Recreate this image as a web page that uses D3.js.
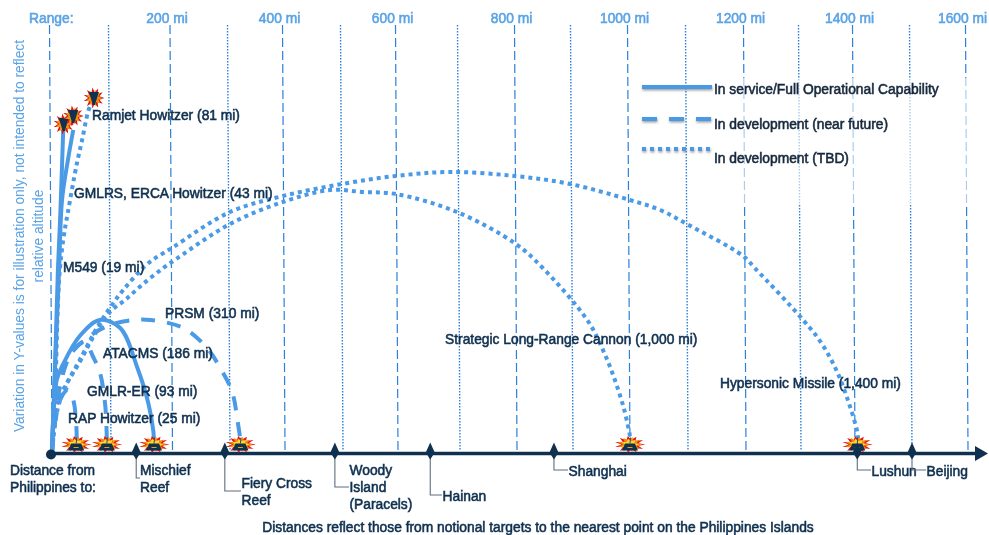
<!DOCTYPE html>
<html>
<head>
<meta charset="utf-8">
<script src="https://cdn.jsdelivr.net/npm/d3@7"></script>
<style>
  html, body { margin: 0; padding: 0; background: #fff; overflow: hidden; }
  text { font-family: "Liberation Sans", Arial, sans-serif; filter: url(#soft); }
</style>
</head>
<body>
<script>
// grid, in miles
var gridMiles = d3.range(0, 1700, 100);
var rangeTicks = [200, 400, 600, 800, 1000, 1200, 1400, 1600];

// trajectories as [miles, relative altitude]
var m549 = [[0,0],[5,20.5],[10,45.5],[14,59],[19,80.5]];
var gmlrs = [[0,0],[5,20.5],[12,45.5],[17,63],[27,73],[36,80.5]];
var ramjet = [[0,0],[5,13],[12,43],[19,53],[27,60],[42,72],[51,78],[61,85],[66,87]];
var rap = [[0,0],[7,9],[17,14],[27,15.5],[36,13],[41,7],[42,3]];
var gmlrEr = [[0,0],[8,12],[24,22],[39,26],[56,27.5],[69,24],[81,20],[90,12],[93,3]];
var atacms = [[0,0],[8,18],[19,22],[47,29],[81,33],[115,31],[143,21],[161,12],[169,5],[170,2]];
var prsm = [[0,0],[8,13],[25,23],[64,29],[103,32],[136,33],[164,33],[219,31],[260,26],[283,21],[304,15],[314,7.5],[319,3]];
var cannon = [[0,0],[5,10],[19,15.5],[47,22.5],[69,28.5],[98,35],[123,38],[152,42],[185,46],[199,47.5],[300,57],[396,62.5],[478,65.5],[536,65],[596,64.5],[695,60],[798,52],[846,46],[925,33],[951,26],[971,19],[989,11],[1000,4],[1002,2]];
var hypersonic = [[0,0],[10,11],[25,17],[47,23],[76,31],[98,36],[120,40.5],[159,47],[199,51],[300,60],[396,64],[498,67],[596,69],[684,70],[796,69],[895,67],[1000,63],[1052,60.5],[1098,57],[1195,49],[1216,46],[1304,33],[1339,27],[1367,20],[1388,12.5],[1404,5],[1406,2]];

var solidSeries = [m549, gmlrs, atacms];
var dashedSeries = [rap, gmlrEr, prsm];
var dottedSeries = [ramjet, cannon, hypersonic];

// where things hit, and the places along the axis
var groundHits = [41, 93, 170, 319, 1000, 1404];
var airHits = [[20, 82], [36, 84], [71, 88.5]];
var placeMiles = [141, 291, 486, 652, 866, 1404, 1500];
var placeNames = [["Mischief", "Reef"], ["Fiery Cross", "Reef"], ["Woody", "Island", "(Paracels)"], ["Hainan"], ["Shanghai"], ["Lushun"], ["Beijing"]];

var weaponLabels = ["Ramjet Howitzer (81 mi)", "GMLRS, ERCA Howitzer (43 mi)", "M549 (19 mi)", "PRSM (310 mi)", "ATACMS (186 mi)", "GMLR-ER (93 mi)", "RAP Howitzer (25 mi)", "Strategic Long-Range Cannon (1,000 mi)", "Hypersonic Missile (1,400 mi)"];
var legendLabels = ["In service/Full Operational Capability", "In development (near future)", "In development (TBD)"];

var w = 989, h = 535;
var blue = "#4a9ae6", gridBlue = "#2a80da", navy = "#10304f", labelBlue = "#5aa3e4";
var lineW = 4, axisY = 453.5, gridLean = 2.5, fontPx = 13.8, textEdge = 0.55;

var svg = d3.select("body").append("svg").attr("width", w).attr("height", h).style("display", "block");

var defs = svg.append("defs");
var soft = defs.append("filter").attr("id", "soft").attr("x", "-5%").attr("y", "-20%").attr("width", "110%").attr("height", "140%");
soft.append("feGaussianBlur").attr("in", "SourceGraphic").attr("stdDeviation", 0.35);
// flat lines have an empty bounding box so this one is in page units
var shade = defs.append("filter").attr("id", "shade").attr("filterUnits", "userSpaceOnUse")
  .attr("x", 0).attr("y", 0).attr("width", w).attr("height", h);
shade.append("feDropShadow").attr("dx", 0.5).attr("dy", 1.5).attr("stdDeviation", 1).attr("flood-color", "#777").attr("flood-opacity", 0.7);

// the grid is not quite even across the slide so the scale goes through each line
var x = d3.scaleLinear()
  .domain(gridMiles)
  .range([52, 111, 172.5, 230, 285, 343, 398, 460, 517, 573, 630, 688, 746, 801, 855, 912, 968]);
var y = d3.scaleLinear().domain([0, 100]).range([452, 52]);

// vertical range lines
svg.append("g").selectAll("line").data(gridMiles).enter().append("line")
  .attr("x1", function(d){ return x(d) - gridLean; })
  .attr("x2", function(d){ return x(d); })
  .attr("y1", 25).attr("y2", 450)
  .attr("stroke", gridBlue)
  .attr("stroke-width", function(d){ return d % 200 == 0 ? 1.2 : 1.4; })
  .attr("stroke-dasharray", function(d){ return d % 200 == 0 ? "9,4" : "1.4,1.6"; });

// legend backing washes out the grid lines behind it
svg.append("rect").attr("x", 714).attr("y", 78).attr("width", 265).attr("height", 126).attr("fill", "#fff").attr("opacity", 0.6);

var arc = d3.line()
  .x(function(d){ return x(d[0]); })
  .y(function(d){ return y(d[1]); })
  .curve(d3.curveCatmullRom.alpha(0.5));

function drawArcs(series, dash) {
  svg.append("g").selectAll("path").data(series).enter().append("path")
    .attr("d", arc)
    .attr("fill", "none")
    .attr("stroke", blue)
    .attr("stroke-width", lineW)
    .attr("stroke-dasharray", dash);
}
drawArcs(dottedSeries, "4,4");
drawArcs(dashedSeries, "14,12");
drawArcs(solidSeries, null);

// legend
var legendY = [87, 119, 149];
var legendDash = [null, "15,12", "4,4"];
var legendTextY = [89, 124, 158];
var legend = svg.append("g");
legend.selectAll("line").data(legendY).enter().append("line")
  .attr("x1", 642).attr("x2", 712)
  .attr("y1", function(d){ return d; }).attr("y2", function(d){ return d; })
  .attr("stroke", blue).attr("stroke-width", lineW)
  .attr("stroke-dasharray", function(d, i){ return legendDash[i]; })
  .attr("filter", "url(#shade)");
legend.selectAll("text").data(legendLabels).enter().append("text")
  .attr("x", 714)
  .attr("y", function(d, i){ return legendTextY[i]; })
  .attr("dy", "0.35em")
  .attr("font-size", fontPx)
  .attr("fill", "#16283c")
  .attr("stroke", "#16283c").attr("stroke-width", textEdge)
  .text(function(d){ return d; });

// axis
svg.append("line").attr("x1", 52).attr("x2", 976).attr("y1", axisY).attr("y2", axisY)
  .attr("stroke", navy).attr("stroke-width", 3.4);
svg.append("path").attr("d", "M975," + (axisY - 7.5) + "L988," + axisY + "L975," + (axisY + 7.5) + "Z").attr("fill", navy);
svg.append("circle").attr("cx", 51).attr("cy", axisY + 1).attr("r", 5).attr("fill", navy);

// little explosion, spikes alternate long and short
function burstPath(rx, ry, spikes) {
  var pts = [];
  for (var i = 0; i < spikes * 2; i++) {
    var a = Math.PI * i / spikes;
    var k = i % 2 == 0 ? 1 : 0.55;
    pts.push([Math.cos(a) * rx * k, Math.sin(a) * ry * k]);
  }
  return d3.line().curve(d3.curveLinearClosed)(pts);
}

function drawGroundHit(miles) {
  var g = svg.append("g").attr("transform", "translate(" + x(miles) + ",444.5)");
  g.append("path").attr("d", burstPath(15.5, 8.5, 11)).attr("fill", "#e01414");
  g.append("path").attr("d", burstPath(13, 7.5, 9)).attr("fill", "#f58a0a");
  g.append("path").attr("d", burstPath(9, 6, 7)).attr("fill", "#ffd633");
  g.append("path").attr("d", "M-5,-1L5,-1L8,6L-8,6Z").attr("fill", "#12304f");
  g.append("line").attr("x1", -2.5).attr("x2", 2.5).attr("y1", 3).attr("y2", 3).attr("stroke", "#e0a020").attr("stroke-width", 1);
  g.append("line").attr("x1", 0).attr("x2", 0.5).attr("y1", -1).attr("y2", -7).attr("stroke", "#3a4a50").attr("stroke-width", 1);
}
groundHits.forEach(drawGroundHit);

function drawAirHit(d) {
  var g = svg.append("g").attr("transform", "translate(" + x(d[0]) + "," + y(d[1]) + ")");
  g.append("path").attr("d", burstPath(10.5, 10.5, 11)).attr("fill", "#d81818");
  g.append("path").attr("d", burstPath(8.5, 8.5, 9)).attr("fill", "#f0930f");
  g.append("path").attr("d", "M-5,-6L5,-6L1,7L-1,7Z").attr("fill", "#12304f");
}
airHits.forEach(drawAirHit);

// places on the axis with their leader lines
var leaderY = [478, 491, 487, 495, 470, 470, 470];
var leaderEnd = [140, 241, 349, 442, 568, 871, 926];
var placeTextY = [470, 483, 470, 496, 471, 471, 471];
placeMiles.forEach(function(miles, i) {
  var px = x(miles);
  svg.append("path")
    .attr("d", "M" + px + "," + axisY + "V" + leaderY[i] + "H" + leaderEnd[i])
    .attr("fill", "none").attr("stroke", "#5d6f80").attr("stroke-width", 1.1);
  svg.append("path")
    .attr("d", "M" + px + "," + (axisY - 11) + "L" + (px + 4.5) + "," + (axisY - 1) + "L" + px + "," + (axisY + 6) + "L" + (px - 4.5) + "," + (axisY - 1) + "Z")
    .attr("fill", navy);
  svg.append("g").selectAll("text").data(placeNames[i]).enter().append("text")
    .attr("x", leaderEnd[i] + (i == 0 ? 0 : 0.5))
    .attr("y", function(d, j){ return placeTextY[i] + j * 17.3; })
    .attr("dy", "0.35em")
    .attr("font-size", fontPx)
    .attr("fill", navy)
    .attr("stroke", navy).attr("stroke-width", textEdge)
    .text(function(d){ return d; });
});

// weapon labels, placed where the slide has them
var weaponX = [92, 74, 63, 165, 103, 87, 68, 445, 720];
var weaponY = [115, 193, 267, 313, 353, 391, 418, 339, 383];
svg.append("g").selectAll("text").data(weaponLabels).enter().append("text")
  .attr("x", function(d, i){ return weaponX[i]; })
  .attr("y", function(d, i){ return weaponY[i]; })
  .attr("dy", "0.35em")
  .attr("font-size", fontPx)
  .attr("fill", navy)
  .attr("stroke", navy).attr("stroke-width", textEdge)
  .text(function(d){ return d; });

// range labels along the top
svg.append("g").selectAll("text").data(rangeTicks).enter().append("text")
  .attr("x", function(d){ return x(d) - gridLean - 3; })
  .attr("y", 18)
  .attr("dy", "0.35em")
  .attr("text-anchor", "middle")
  .attr("font-size", fontPx)
  .attr("fill", labelBlue)
  .attr("stroke", labelBlue).attr("stroke-width", textEdge)
  .text(function(d){ return d + " mi"; });
svg.append("text").attr("x", 29).attr("y", 18).attr("dy", "0.35em")
  .attr("font-size", fontPx).attr("fill", labelBlue)
  .attr("stroke", labelBlue).attr("stroke-width", textEdge)
  .text("Range:");

// left hand note
svg.append("text")
  .attr("transform", "translate(19,236) rotate(-90)")
  .attr("dy", "0.35em").attr("text-anchor", "middle")
  .attr("font-size", fontPx).attr("fill", labelBlue)
  .text("Variation in Y-values is for illustration only, not intended to reflect");
svg.append("text")
  .attr("transform", "translate(38,236) rotate(-90)")
  .attr("dy", "0.35em").attr("text-anchor", "middle")
  .attr("font-size", fontPx).attr("fill", labelBlue)
  .text("relative altitude");

var distanceLines = ["Distance from", "Philippines to:"];
svg.append("g").selectAll("text").data(distanceLines).enter().append("text")
  .attr("x", 10)
  .attr("y", function(d, i){ return 470 + i * 17.3; })
  .attr("dy", "0.35em")
  .attr("font-size", fontPx)
  .attr("fill", navy)
  .attr("stroke", navy).attr("stroke-width", textEdge)
  .text(function(d){ return d; });

svg.append("text").attr("x", 538).attr("y", 527).attr("dy", "0.35em")
  .attr("text-anchor", "middle")
  .attr("font-size", fontPx)
  .attr("fill", navy)
  .attr("stroke", navy).attr("stroke-width", textEdge)
  .text("Distances reflect those from notional targets to the nearest point on the Philippines Islands");
</script>
</body>
</html>
